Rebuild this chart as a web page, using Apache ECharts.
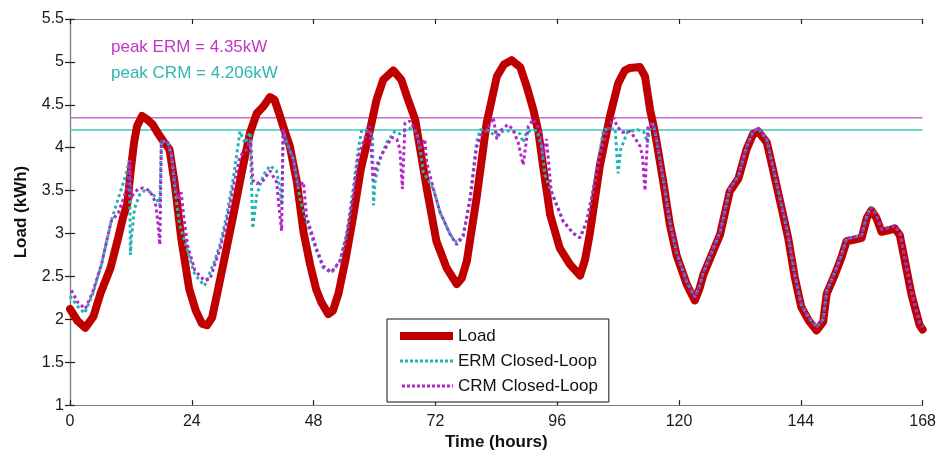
<!DOCTYPE html>
<html>
<head>
<meta charset="utf-8">
<script src="https://cdn.jsdelivr.net/npm/echarts@6/dist/echarts.min.js"></script>
<style>
  html, body { margin: 0; padding: 0; background: #fff; }
  #chart { width: 939px; height: 456px; }
</style>
</head>
<body>
<div id="chart"></div>
<script>
// Household load over one week, hourly time axis in hours.
const timeRange = [0, 168];
const timeStep = 24;
const loadRange = [1, 5.5];
const loadStep = 0.5;

const peakERM = 4.35;
const peakCRM = 4.206;

// Uncontrolled load [hour, kWh]
const loadSeries = [
  [0, 2.12], [1.5, 1.98], [3, 1.9], [4.6, 2.03], [6, 2.3], [8, 2.6], [9.5, 2.95],
  [10.5, 3.2], [11.3, 3.35], [12, 3.75], [12.6, 4.05], [13.2, 4.25], [14.2, 4.37],
  [15.2, 4.33], [16.3, 4.27], [17.3, 4.17], [18.7, 4.05], [19.6, 3.98], [20.6, 3.6],
  [21.9, 2.95], [23.5, 2.35], [24.8, 2.1], [26.0, 1.95], [27.0, 1.93], [28.0, 2.02],
  [29, 2.3], [30.2, 2.64], [32.2, 3.22], [34.1, 3.79], [35.5, 4.18], [36.8, 4.4],
  [38.1, 4.48], [39.4, 4.59], [40.3, 4.56], [41.2, 4.4], [42.0, 4.25], [43.3, 4.02],
  [44.7, 3.6], [46.0, 3.02], [47.3, 2.64], [48.5, 2.35], [49.5, 2.2], [50.9, 2.06],
  [51.8, 2.1], [52.9, 2.3], [54.3, 2.7], [55.8, 3.2], [57.3, 3.75], [59.1, 4.2],
  [60.4, 4.56], [61.7, 4.79], [63.7, 4.9], [65.3, 4.79], [66.6, 4.56], [68.0, 4.33],
  [69.0, 3.98], [70.3, 3.52], [72.2, 2.91], [74.2, 2.6], [76.2, 2.41], [77.2, 2.48],
  [78.2, 2.68], [80.1, 3.41], [82.1, 4.29], [84.1, 4.83], [85.5, 4.97], [87.0, 5.02],
  [88.7, 4.94], [90.0, 4.71], [91.3, 4.44], [92.3, 4.18], [93.2, 3.79], [94.6, 3.22],
  [96.5, 2.83], [98.5, 2.64], [100.5, 2.51], [101.5, 2.7], [102.4, 2.99], [104.4, 3.79],
  [106.4, 4.37], [108.0, 4.75], [109.3, 4.9], [110.3, 4.93], [112.3, 4.94], [113.3, 4.83],
  [114.3, 4.44], [115.0, 4.25], [115.6, 4.06], [116.9, 3.6], [118.2, 3.1], [119.5, 2.75],
  [121.5, 2.41], [123.1, 2.22], [124.0, 2.35], [124.8, 2.52], [126.7, 2.79], [128.1, 2.99],
  [130.0, 3.49], [131.7, 3.64], [133.3, 3.98], [134.6, 4.16], [135.6, 4.19], [137.3, 4.06],
  [138.5, 3.75], [140, 3.35], [141.5, 2.95], [142.8, 2.49], [144.1, 2.14], [145.5, 1.99],
  [147.1, 1.87], [148.4, 1.97], [149.1, 2.3], [150.7, 2.52], [152.0, 2.72], [153.0, 2.91],
  [154.6, 2.93], [156.0, 2.95], [157.0, 3.18], [157.9, 3.27], [158.9, 3.18], [159.9, 3.02],
  [161.5, 3.04], [162.5, 3.06], [163.5, 2.98], [164.5, 2.68], [165.8, 2.29], [167.4, 1.93],
  [168, 1.88]
];

// ERM closed-loop response [hour, kWh]
const ermSeries = [
  [0, 2.27], [1.5, 2.15], [2.9, 2.07], [4.5, 2.3], [6.2, 2.64], [8.1, 3.14], [9.5, 3.41],
  [10.8, 3.64], [11.7, 3.85], [11.9, 2.75], [12.1, 2.95], [12.7, 3.29], [13.7, 3.45],
  [14.7, 3.5], [16.0, 3.48], [17.0, 3.41], [17.7, 3.33], [18.0, 4.08], [19.3, 4.06],
  [20.0, 3.91], [20.9, 3.41], [21.6, 3.1], [23.2, 2.79], [24.6, 2.52], [26.5, 2.39],
  [28.5, 2.68], [29.6, 2.88], [30.9, 3.22], [32.2, 3.65], [33.5, 4.19], [34.5, 4.05],
  [35.5, 4.18], [36.0, 3.06], [36.8, 3.45], [38.1, 3.68], [39.4, 3.79], [40.7, 3.73],
  [41.4, 3.52], [41.7, 3.33], [42.0, 4.2], [42.7, 4.06], [44.0, 3.87], [45.3, 3.41],
  [46.6, 3.14], [48.6, 2.79], [49.9, 2.6], [51.5, 2.54], [53.2, 2.68], [54.5, 2.99],
  [55.8, 3.52], [56.8, 3.98], [57.5, 4.21], [58.5, 4.2], [59.6, 4.15], [59.8, 3.33],
  [60.1, 3.6], [61.1, 3.87], [62.4, 4.06], [64.0, 4.19], [65.0, 4.16], [66.0, 4.2],
  [67.3, 4.23], [68.3, 4.18], [69.0, 3.98], [69.6, 3.72], [71.6, 3.52], [72.9, 3.25],
  [74.9, 2.99], [76.2, 2.89], [77.5, 2.99], [78.8, 3.41], [80.1, 4.06], [80.8, 4.21],
  [82.5, 4.2], [83.7, 4.14], [85.6, 4.2], [87.6, 4.19], [88.7, 4.16], [89.3, 4.06],
  [90.0, 4.19], [92.0, 4.2], [92.9, 4.02], [93.6, 3.68], [94.6, 3.52], [95.9, 3.33],
  [97.2, 3.14], [99.2, 3.0], [100.5, 2.95], [101.8, 3.14], [103.1, 3.52], [104.4, 3.95],
  [105.1, 4.21], [106.5, 4.22], [107.4, 4.22], [108.0, 3.7], [108.5, 3.98], [109.8, 4.18],
  [111.8, 4.21], [113.1, 4.18], [113.8, 4.06], [114.3, 4.23], [114.9, 4.28], [115.6, 4.09],
  [116.9, 3.63], [118.2, 3.13], [119.5, 2.78], [121.5, 2.44], [123.1, 2.26], [124.0, 2.38],
  [124.8, 2.55], [126.7, 2.82], [128.1, 3.02], [130.0, 3.52], [131.7, 3.67], [133.3, 4.01],
  [134.6, 4.19], [135.6, 4.23], [137.3, 4.09], [138.5, 3.78], [140, 3.38], [141.5, 2.98],
  [142.8, 2.52], [144.1, 2.17], [145.5, 2.02], [147.1, 1.91], [148.4, 2.0], [149.1, 2.33],
  [150.7, 2.55], [152.0, 2.75], [153.0, 2.94], [154.6, 2.96], [156.0, 2.98], [157.0, 3.21],
  [157.9, 3.31], [158.9, 3.21], [159.9, 3.05], [161.5, 3.07], [162.5, 3.09], [163.5, 3.01],
  [164.5, 2.71], [165.8, 2.32], [167.4, 1.96], [168, 1.91]
];

// CRM closed-loop response [hour, kWh]
const crmSeries = [
  [0, 2.37], [1.5, 2.2], [3.0, 2.12], [4.5, 2.32], [6.2, 2.64], [8.1, 3.14], [9.5, 3.24],
  [10.8, 3.45], [11.3, 3.55], [11.8, 3.85], [12.1, 3.4], [12.4, 3.45], [13.4, 3.52],
  [14.4, 3.53], [15.7, 3.5], [16.8, 3.37], [17.3, 3.14], [17.7, 2.87], [18.0, 4.08],
  [19.3, 4.06], [20.0, 3.91], [20.9, 3.5], [21.4, 3.4], [21.9, 3.48], [22.4, 3.2],
  [23.2, 2.85], [24.6, 2.57], [26.5, 2.45], [27.6, 2.47], [29.6, 2.83], [30.9, 3.14],
  [32.2, 3.55], [33.5, 3.9], [34.8, 3.98], [35.6, 4.1], [36.0, 3.62], [36.8, 3.58],
  [38.1, 3.62], [39.4, 3.73], [40.7, 3.6], [41.2, 3.3], [41.7, 3.03], [42.0, 4.22],
  [42.7, 4.06], [44.0, 3.87], [45.0, 3.55], [46.0, 3.6], [46.6, 3.2], [48.6, 2.82],
  [49.9, 2.62], [51.5, 2.55], [53.2, 2.68], [54.5, 2.97], [55.8, 3.45], [56.8, 3.9],
  [58.0, 4.1], [59.1, 4.25], [59.7, 3.62], [60.4, 3.79], [61.7, 3.95], [63.4, 4.12],
  [64.4, 4.1], [65.0, 3.98], [65.5, 3.52], [66.0, 4.29], [67.0, 4.31], [68.0, 4.2],
  [69.0, 4.0], [69.9, 4.1], [70.3, 3.83], [71.6, 3.52], [72.9, 3.25], [74.9, 2.99],
  [76.2, 2.87], [77.5, 2.97], [78.8, 3.38], [80.1, 4.0], [81.0, 4.15], [82.1, 4.2],
  [83.4, 4.35], [84.1, 4.1], [85.0, 4.21], [86.3, 4.27], [87.3, 4.21], [88.3, 4.06],
  [89.3, 3.8], [90.3, 4.25], [91.3, 4.33], [91.9, 4.27], [92.6, 4.2], [93.2, 3.9],
  [93.9, 4.1], [94.8, 3.5], [95.9, 3.33], [97.2, 3.14], [99.2, 3.0], [100.5, 2.95],
  [101.8, 3.14], [103.1, 3.5], [104.4, 3.9], [105.5, 4.15], [106.3, 4.25], [107.1, 4.35],
  [107.8, 4.25], [108.8, 4.18], [110.3, 4.19], [111.0, 4.14], [112.3, 4.02], [112.8, 3.9],
  [113.3, 3.5], [113.9, 4.27], [114.3, 4.27], [114.9, 4.28], [115.6, 4.09],
  [116.9, 3.63], [118.2, 3.13], [119.5, 2.78], [121.5, 2.44], [123.1, 2.26], [124.0, 2.38],
  [124.8, 2.55], [126.7, 2.82], [128.1, 3.02], [130.0, 3.52], [131.7, 3.67], [133.3, 4.01],
  [134.6, 4.19], [135.6, 4.23], [137.3, 4.09], [138.5, 3.78], [140, 3.38], [141.5, 2.98],
  [142.8, 2.52], [144.1, 2.17], [145.5, 2.02], [147.1, 1.91], [148.4, 2.0], [149.1, 2.33],
  [150.7, 2.55], [152.0, 2.75], [153.0, 2.94], [154.6, 2.96], [156.0, 2.98], [157.0, 3.21],
  [157.9, 3.3], [158.9, 3.21], [159.9, 3.05], [161.5, 3.07], [162.5, 3.09], [163.5, 3.01],
  [164.5, 2.71], [165.8, 2.32], [167.4, 1.96], [168, 1.91]
];

const seriesNames = ['Load', 'ERM Closed-Loop', 'CRM Closed-Loop'];
const peakLabels = ['peak ERM = 4.35kW', 'peak CRM = 4.206kW'];

const RED = '#c00000';
const TEAL = '#22b4b4';
const MAGENTA = '#b424c8';
const FONT = '"Liberation Sans", Arial, sans-serif';

const chart = echarts.init(document.getElementById('chart'), null, { renderer: 'canvas' });

const axisLine = { show: true, lineStyle: { color: '#808080', width: 1.2 } };
const tick = { show: true, inside: true, length: 5, lineStyle: { color: '#222', width: 1.2 } };

// Legend swatches: line only (no marker), with each series' stroke
const legendItems = [
  { name: seriesNames[0], lineStyle: { color: RED, width: 8, type: 'solid', cap: 'butt' } },
  { name: seriesNames[1], lineStyle: { color: TEAL, width: 3, type: [3, 2] } },
  { name: seriesNames[2], lineStyle: { color: MAGENTA, width: 3, type: [3, 2] } }
];

chart.setOption({
  animation: false,
  backgroundColor: '#ffffff',
  grid: { left: 70, right: 16, top: 19, bottom: 47, containLabel: false },
  xAxis: [
    {
      type: 'value', min: timeRange[0], max: timeRange[1], interval: timeStep,
      position: 'bottom',
      axisLine, axisTick: tick, splitLine: { show: false },
      axisLabel: { color: '#1a1a1a', fontSize: 16, fontFamily: FONT, margin: 8 },
      name: 'Time (hours)', nameLocation: 'middle', nameGap: 26,
      nameTextStyle: { color: '#111', fontSize: 17, fontWeight: 'bold', fontFamily: FONT, verticalAlign: 'top' }
    },
    {
      type: 'value', min: timeRange[0], max: timeRange[1], interval: timeStep,
      position: 'top',
      axisLine, axisTick: tick, splitLine: { show: false }, axisLabel: { show: false }
    }
  ],
  yAxis: [
    {
      type: 'value', min: loadRange[0], max: loadRange[1], interval: loadStep,
      position: 'left',
      axisLine, axisTick: tick, splitLine: { show: false },
      axisLabel: { color: '#1a1a1a', fontSize: 16, fontFamily: FONT, margin: 6 },
      name: 'Load (kWh)', nameLocation: 'middle', nameGap: 40,
      nameTextStyle: { color: '#111', fontSize: 17, fontWeight: 'bold', fontFamily: FONT }
    },
    {
      type: 'value', min: loadRange[0], max: loadRange[1], interval: loadStep,
      position: 'right',
      axisLine, axisTick: tick, splitLine: { show: false }, axisLabel: { show: false }
    }
  ],
  legend: {
    data: legendItems,
    orient: 'vertical',
    left: 387, top: 319,
    padding: [7, 11, 6, 9],
    itemWidth: 53, itemHeight: 20, itemGap: 5,
    itemStyle: { opacity: 0 },
    backgroundColor: '#ffffff',
    borderColor: '#111', borderWidth: 1,
    textStyle: { color: '#111', fontSize: 17, fontFamily: FONT, lineHeight: 20 },
    selectedMode: false
  },
  graphic: [
    {
      type: 'text', left: 111, top: 39, silent: true,
      style: { text: peakLabels[0], fill: '#c236c6', font: '17px ' + FONT }
    },
    {
      type: 'text', left: 111, top: 65, silent: true,
      style: { text: peakLabels[1], fill: '#2fb7b0', font: '17px ' + FONT }
    }
  ],
  series: [
    {
      name: 'peakERM', type: 'line', silent: true, symbol: 'none', z: 1,
      data: [[timeRange[0], peakERM], [timeRange[1], peakERM]],
      lineStyle: { color: '#c46ccc', width: 1.5 }
    },
    {
      name: 'peakCRM', type: 'line', silent: true, symbol: 'none', z: 1,
      data: [[timeRange[0], peakCRM], [timeRange[1], peakCRM]],
      lineStyle: { color: '#3cc8bc', width: 1.5 }
    },
    {
      name: seriesNames[0], type: 'line', symbol: 'none', z: 2,
      data: loadSeries, color: RED,
      lineStyle: { color: RED, width: 8, join: 'round', cap: 'round' }
    },
    {
      name: seriesNames[1], type: 'line', symbol: 'none', z: 3,
      data: ermSeries, color: TEAL,
      lineStyle: { color: TEAL, width: 3, type: [3, 3], dashOffset: 0 }
    },
    {
      name: seriesNames[2], type: 'line', symbol: 'none', z: 4,
      data: crmSeries, color: MAGENTA,
      lineStyle: { color: MAGENTA, width: 3, type: [3, 3], dashOffset: 3 }
    }
  ]
});
</script>
</body>
</html>
